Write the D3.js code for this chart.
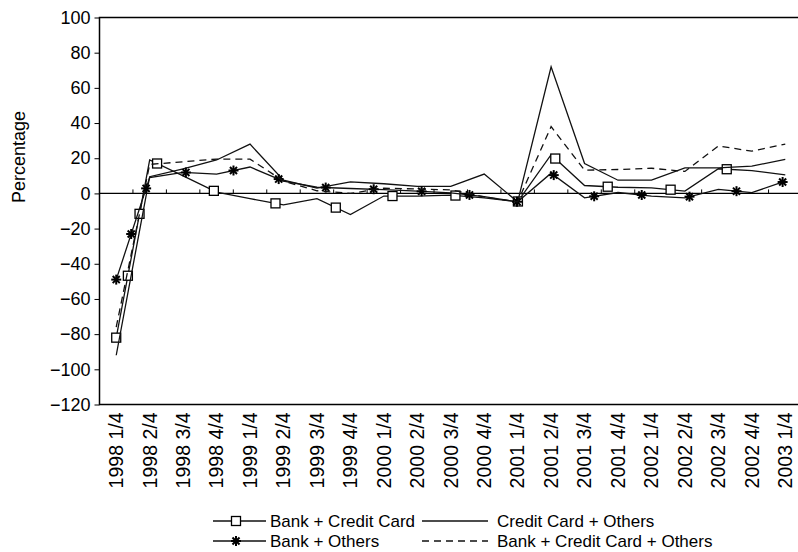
<!DOCTYPE html>
<html>
<head>
<meta charset="utf-8">
<script src="https://cdn.jsdelivr.net/npm/d3@7"></script>
<style>
  body { margin: 0; background: #fff; }
  text { font-family: "Liberation Sans", Arial, sans-serif; fill: #000; }
</style>
</head>
<body>
<div id="chart"></div>
<script>
// quarters on the category axis
const quarters = ["1998 1/4", "1998 2/4", "1998 3/4", "1998 4/4", "1999 1/4", "1999 2/4", "1999 3/4",
    "1999 4/4", "2000 1/4", "2000 2/4", "2000 3/4", "2000 4/4", "2001 1/4", "2001 2/4", "2001 3/4",
    "2001 4/4", "2002 1/4", "2002 2/4", "2002 3/4", "2002 4/4", "2003 1/4"];

// series values (percentage)
const bankCredit = [-82, 19, 10, 0.7, -3, -6.5, -3, -12, -1.5, -1.5, -1, -2.5, -4.8,
    22, 4.5, 3.5, 3.2, 1.3, 14, 13, 10.5];
const creditOthers = [-92, 9.5, 14, 19, 28, 7.5, 3, 6.5, 5.5, 4, 4, 11, -4.8,
    72, 17, 7.5, 7.5, 14.5, 14.5, 15.5, 19.3];
const bankOthers = [-49, 9, 12, 11, 15, 7, 3.5, 2.8, 2.2, 1.3, 0.3, -1.8, -4.8,
    11.5, -2.5, 0.5, -1.5, -2.5, 2.3, 0.4, 7];
const allThree = [-76, 16.5, 18, 19.5, 19.5, 7, 1.5, 0, 3, 2.5, 2, -2, -4.8,
    38, 13.2, 13.6, 14.3, 12.5, 27, 24, 28];

const yTicks = d3.range(-120, 101, 20);

const series = [
    { name: 'Bank + Credit Card', values: bankCredit, marker: 'square', dash: null },
    { name: 'Credit Card + Others', values: creditOthers, marker: null, dash: null },
    { name: 'Bank + Others', values: bankOthers, marker: 'star', dash: null },
    { name: 'Bank + Credit Card + Others', values: allThree, marker: null, dash: '7,5' }
];

const width = 798, height = 552;
const plot = { left: 99.5, top: 17.5, right: 802, bottom: 404.5 };

const svg = d3.select('#chart').append('svg')
    .attr('width', width)
    .attr('height', height);

const x = d3.scaleBand().domain(quarters).range([plot.left, plot.right]);
const cx = q => x(q) + x.bandwidth() / 2;
const y = d3.scaleLinear().domain([-120, 100]).range([plot.bottom, plot.top]);

// frame
svg.append('rect')
    .attr('x', plot.left).attr('y', plot.top)
    .attr('width', plot.right - plot.left).attr('height', plot.bottom - plot.top)
    .attr('fill', 'none').attr('stroke', '#000').attr('stroke-width', 1.5);

// y axis
const yAxis = svg.append('g')
    .attr('transform', `translate(${plot.left},0)`)
    .call(d3.axisLeft(y).tickValues(yTicks).tickSize(5).tickPadding(4)
        .tickFormat(d => d < 0 ? '\u2212' + Math.abs(d) : d));
yAxis.select('.domain').remove();
yAxis.selectAll('text').attr('font-size', 18).attr('font-family', '"Liberation Sans", Arial, sans-serif');
yAxis.selectAll('line').attr('stroke', '#000');

svg.append('text')
    .attr('transform', `translate(25,157) rotate(-90)`)
    .attr('text-anchor', 'middle')
    .attr('font-size', 18)
    .text('Percentage');

// zero line with category ticks
svg.append('line')
    .attr('x1', plot.left).attr('x2', plot.right)
    .attr('y1', y(0)).attr('y2', y(0))
    .attr('stroke', '#000').attr('stroke-width', 1.2);
svg.append('g').selectAll('line')
    .data(quarters.slice(1))
    .join('line')
    .attr('x1', d => x(d)).attr('x2', d => x(d))
    .attr('y1', y(0) - 4).attr('y2', y(0))
    .attr('stroke', '#000');

// category labels
svg.append('g').selectAll('text')
    .data(quarters)
    .join('text')
    .attr('transform', d => `translate(${cx(d)},${plot.bottom + 8}) rotate(-90)`)
    .attr('text-anchor', 'end')
    .attr('dy', '0.35em')
    .attr('font-size', 19.5)
    .text(d => d);

function drawMarker(g, kind, px, py) {
    if (kind === 'square') {
        g.append('rect')
            .attr('x', px - 4.5).attr('y', py - 4.5)
            .attr('width', 9).attr('height', 9)
            .attr('fill', '#fff').attr('stroke', '#000').attr('stroke-width', 1.3);
    } else if (kind === 'star') {
        const r = 5;
        [0, 45, 90, 135].forEach(a => {
            const rad = a * Math.PI / 180;
            g.append('line')
                .attr('x1', px - r * Math.cos(rad)).attr('y1', py - r * Math.sin(rad))
                .attr('x2', px + r * Math.cos(rad)).attr('y2', py + r * Math.sin(rad))
                .attr('stroke', '#000').attr('stroke-width', 2);
        });
    }
}

const line = d3.line()
    .x((d, i) => cx(quarters[i]))
    .y(d => y(d));

// markers sit at equal distances along each path
const markerStep = { square: 63, star: 48 };

series.forEach(s => {
    const path = svg.append('path')
        .datum(s.values)
        .attr('d', line)
        .attr('fill', 'none')
        .attr('stroke', '#111')
        .attr('stroke-width', 1.3)
        .attr('stroke-dasharray', s.dash);
    if (s.marker) {
        const node = path.node();
        const len = node.getTotalLength();
        const g = svg.append('g');
        for (let l = 0; l <= len; l += markerStep[s.marker]) {
            const p = node.getPointAtLength(l);
            drawMarker(g, s.marker, p.x, p.y);
        }
    }
});

// legend
const legendItems = [
    { s: series[0], lx: 213, ly: 521 },
    { s: series[1], lx: 422, ly: 521 },
    { s: series[2], lx: 213, ly: 541 },
    { s: series[3], lx: 422, ly: 541 }
];
const legend = svg.append('g');
legendItems.forEach(it => {
    const g = legend.append('g');
    const x1 = it.lx, x2 = it.lx + (it.lx < 300 ? 53 : 66);
    g.append('line')
        .attr('x1', x1).attr('x2', x2)
        .attr('y1', it.ly).attr('y2', it.ly)
        .attr('stroke', '#111').attr('stroke-width', 1.3)
        .attr('stroke-dasharray', it.s.dash);
    if (it.s.marker) drawMarker(g, it.s.marker, x1 + 23, it.ly);
    g.append('text')
        .attr('x', it.lx < 300 ? 270 : 497).attr('y', it.ly)
        .attr('dy', '0.35em')
        .attr('font-size', 17)
        .text(it.s.name);
});
</script>
</body>
</html>
